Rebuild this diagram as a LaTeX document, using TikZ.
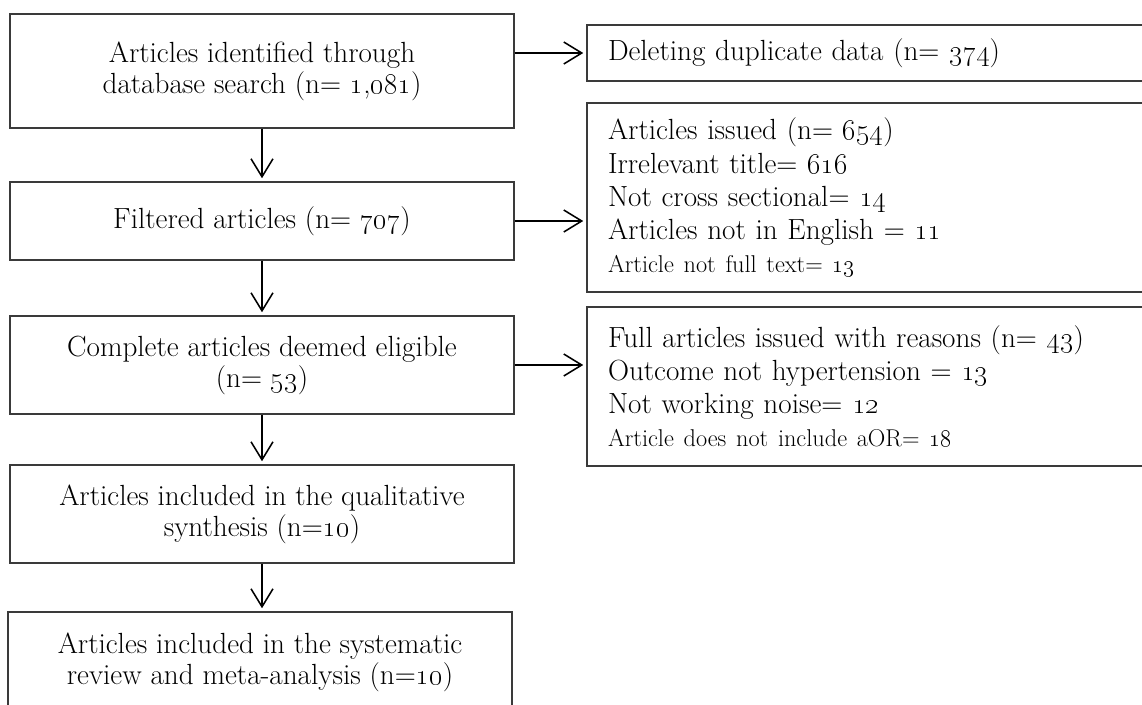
\documentclass[tikz,border=0pt]{standalone}
\usepackage{xcolor}
\usepackage{tikz}
\usetikzlibrary{arrows.meta}
\definecolor{edge}{HTML}{3A3A3A}
\definecolor{ink}{HTML}{000000}
\newcommand{\osn}[1]{\oldstylenums{#1}}
\newcommand{\bigtxt}{\fontsize{20.74}{22}\selectfont}
\newcommand{\sidetxt}{\fontsize{20.74}{23.5}\selectfont}
\newcommand{\smalltxt}{\fontsize{17.28}{20}\selectfont}
\tikzset{
  box/.style={draw=edge, line width=0.8pt, align=center, minimum width=12.6cm, inner sep=0pt, text=ink, font=\bigtxt},
  side/.style={draw=edge, line width=0.8pt, align=left, text width=13.275cm, inner xsep=0.525cm, inner ysep=0pt, text=ink, font=\sidetxt},
  flow/.style={draw=ink, line width=1.1pt, -{Straight Barb[length=0.45cm,width=0.55cm]}, shorten >=0.08cm}
}

\begin{document}
\begin{tikzpicture}
  \useasboundingbox (0,0) rectangle (28.55,-17.6);

  \node[box, minimum height=2.85cm] (ident) at (6.55,-1.775) {Articles identified through\\database search (n= \osn{1},\osn{081})};
  \node[box, minimum height=1.95cm] (filt) at (6.55,-5.525) {Filtered articles (n= \osn{707})};
  \node[box, minimum height=2.45cm] (elig) at (6.55,-9.125) {Complete articles deemed eligible\\(n= \osn{53})};
  \node[box, minimum height=2.45cm] (qual) at (6.55,-12.85) {Articles included in the qualitative\\synthesis (n=\osn{10})};
  \node[box, minimum height=2.5cm] (meta) at (6.5,-16.55) {Articles included in the systematic\\review and meta-analysis (n=\osn{10})};

  \node[side, minimum height=1.4cm] (dup) at (21.8375,-1.325) {Deleting duplicate data (n= \osn{374})};
  \node[side, minimum height=4.725cm] (issued) at (21.8375,-4.9375) {Articles issued (n= \osn{654})\\Irrelevant title= \osn{616}\\Not cross sectional= \osn{14}\\Articles not in English = \osn{11}\\{\smalltxt Article not full text= \osn{13}}};
  \node[side, minimum height=3.975cm] (reasons) at (21.8375,-9.6625) {Full articles issued with reasons (n= \osn{43})\\Outcome not hypertension = \osn{13}\\Not working noise= \osn{12}\\{\smalltxt Article does not include aOR= \osn{18}}};

  \draw[flow] (ident) -- (filt);
  \draw[flow] (filt) -- (elig);
  \draw[flow] (elig) -- (qual);
  \draw[flow] (qual.south) -- (qual.south |- meta.north);
  \draw[flow] (ident.east |- dup.west) -- (dup.west);
  \draw[flow] (filt.east) -- (filt.east -| issued.west);
  \draw[flow] (elig.east) -- (elig.east -| reasons.west);
\end{tikzpicture}
\end{document}
